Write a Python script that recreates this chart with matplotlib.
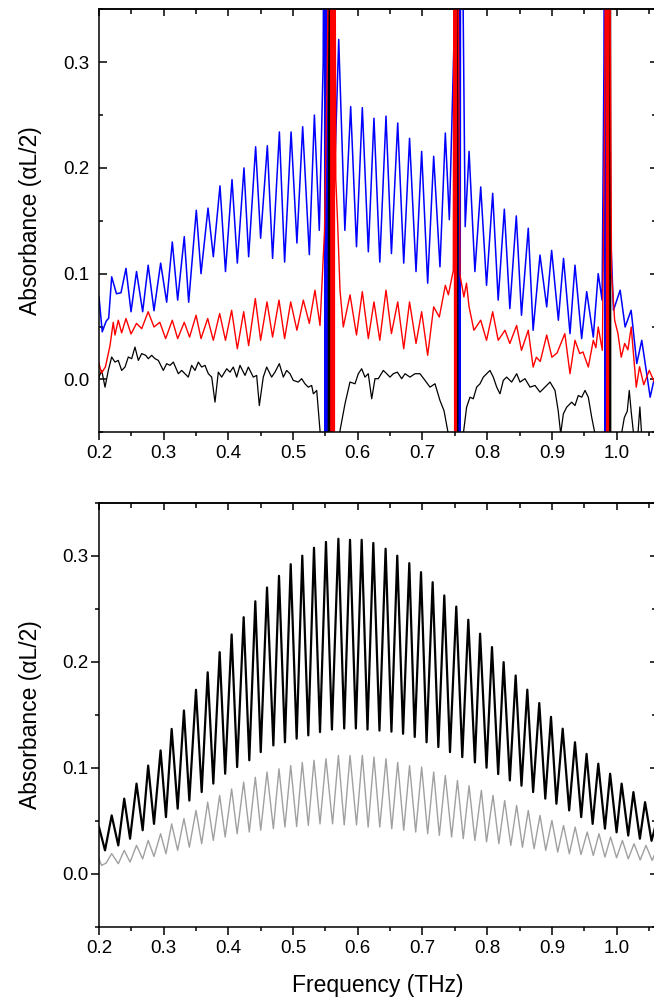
import matplotlib
matplotlib.use("Agg")
import matplotlib.pyplot as plt
from matplotlib.ticker import MultipleLocator, FuncFormatter

plt.rcParams["font.family"] = ["Liberation Sans", "DejaVu Sans"]

# ---- top panel: measured absorbance, frequency in THz ----
# water lines run off scale, so those points sit outside the y range
blue_f = [0.2000, 0.2050, 0.2110, 0.2150, 0.2196, 0.2270, 0.2340, 0.2417, 0.2495, 0.2580,
          0.2675, 0.2760, 0.2850, 0.2953, 0.3046, 0.3133, 0.3216, 0.3318, 0.3386, 0.3504,
          0.3577, 0.3685, 0.3767, 0.3870, 0.3955, 0.4056, 0.4138, 0.4241, 0.4313, 0.4421,
          0.4498, 0.4602, 0.4683, 0.4788, 0.4869, 0.4969, 0.5059, 0.5148, 0.5251, 0.5329,
          0.5405, 0.5465, 0.5484, 0.5497, 0.5510, 0.5523, 0.5536, 0.5645, 0.5705, 0.5800,
          0.5890, 0.5980, 0.6070, 0.6163, 0.6250, 0.6340, 0.6436, 0.6520, 0.6617, 0.6710,
          0.6800, 0.6900, 0.6987, 0.7080, 0.7173, 0.7270, 0.7353, 0.7415, 0.7500, 0.7540,
          0.7552, 0.7565, 0.7577, 0.7590, 0.7660, 0.7720, 0.7810, 0.7900, 0.7990, 0.8085,
          0.8170, 0.8265, 0.8350, 0.8450, 0.8530, 0.8635, 0.8710, 0.8816, 0.8920, 0.8996,
          0.9100, 0.9180, 0.9280, 0.9357, 0.9460, 0.9538, 0.9640, 0.9716, 0.9776, 0.9805,
          0.9815, 0.9825, 0.9835, 0.9845, 0.9855, 0.9906, 0.9952, 1.0055, 1.0132, 1.0225,
          1.0312, 1.0389, 1.0519, 1.0580]
blue_a = [0.078, 0.045, 0.055, 0.058, 0.097, 0.081, 0.082, 0.105, 0.064, 0.102,
          0.064, 0.108, 0.065, 0.110, 0.073, 0.130, 0.075, 0.135, 0.073, 0.160,
          0.100, 0.162, 0.116, 0.183, 0.102, 0.189, 0.110, 0.200, 0.116, 0.220,
          0.1335, 0.221, 0.1145, 0.234, 0.111, 0.234, 0.129, 0.239, 0.118, 0.250,
          0.141, 0.300, 0.600, -0.400, 0.600, -0.400, 0.600, 0.200, 0.3215, 0.141,
          0.258, 0.1255, 0.257, 0.1207, 0.247, 0.111, 0.249, 0.119, 0.2425, 0.110,
          0.228, 0.102, 0.2156, 0.091, 0.211, 0.1065, 0.233, 0.151, 0.350, 0.600,
          -0.400, 0.600, -0.400, 0.600, 0.1445, 0.2156, 0.102, 0.182, 0.089, 0.176,
          0.075, 0.161, 0.067, 0.1546, 0.0607, 0.143, 0.0465, 0.1176, 0.0686, 0.122,
          0.056, 0.1145, 0.0433, 0.108, 0.0386, 0.083, 0.040, 0.100, 0.075, 0.300,
          0.600, -0.400, 0.600, -0.400, 0.600, 0.141, 0.0654, 0.0844, 0.0496, 0.0654,
          0.015, 0.037, -0.0168, 0.000]

red_f = [0.2000, 0.2040, 0.2100, 0.2170, 0.2220, 0.2247, 0.2298, 0.2350, 0.2417, 0.2495,
         0.2580, 0.2660, 0.2760, 0.2850, 0.2940, 0.3030, 0.3133, 0.3216, 0.3318, 0.3400,
         0.3500, 0.3577, 0.3680, 0.3767, 0.3865, 0.3955, 0.4050, 0.4138, 0.4236, 0.4313,
         0.4416, 0.4498, 0.4597, 0.4683, 0.4782, 0.4869, 0.4963, 0.5059, 0.5158, 0.5251,
         0.5338, 0.5416, 0.5485, 0.5530, 0.5578, 0.5590, 0.5602, 0.5614, 0.5626, 0.5638,
         0.5640, 0.5660, 0.5690, 0.5725, 0.5776, 0.5880, 0.5980, 0.6070, 0.6163, 0.6250,
         0.6340, 0.6436, 0.6520, 0.6617, 0.6710, 0.6800, 0.6900, 0.6987, 0.7080, 0.7173,
         0.7260, 0.7353, 0.7400, 0.7476, 0.7490, 0.7500, 0.7510, 0.7520, 0.7530, 0.7580,
         0.7640, 0.7680, 0.7720, 0.7795, 0.7900, 0.7990, 0.8085, 0.8170, 0.8275, 0.8350,
         0.8455, 0.8530, 0.8635, 0.8710, 0.8760, 0.8820, 0.8920, 0.9000, 0.9080, 0.9200,
         0.9280, 0.9357, 0.9430, 0.9480, 0.9563, 0.9640, 0.9680, 0.9716, 0.9780, 0.9815,
         0.9840, 0.9850, 0.9860, 0.9870, 0.9880, 0.9922, 0.9970, 1.0021, 1.0072, 1.0125,
         1.0175, 1.0226, 1.0304, 1.0355, 1.0420, 1.0505, 1.0580]
red_a = [0.015, 0.006, 0.012, 0.032, 0.054, 0.042, 0.056, 0.044, 0.0576, 0.043,
         0.053, 0.048, 0.064, 0.0496, 0.054, 0.0386, 0.056, 0.0386, 0.054, 0.040,
         0.0607, 0.0386, 0.0576, 0.037, 0.0623, 0.037, 0.0654, 0.029, 0.064, 0.032,
         0.0765, 0.037, 0.0733, 0.040, 0.075, 0.0386, 0.0733, 0.0465, 0.075, 0.053,
         0.0844, 0.051, 0.140, 0.300, 0.600, -0.400, 0.600, -0.400, 0.600, -0.400,
         0.600, 0.190, 0.145, 0.0844, 0.0496, 0.080, 0.042, 0.083, 0.0386, 0.0733,
         0.037, 0.0844, 0.0433, 0.0733, 0.029, 0.0733, 0.034, 0.064, 0.0228, 0.0686,
         0.059, 0.089, 0.080, 0.103, 0.600, -0.400, 0.600, -0.400, 0.600, 0.0986,
         0.078, 0.091, 0.0686, 0.0465, 0.056, 0.037, 0.064, 0.037, 0.0465, 0.034,
         0.051, 0.0275, 0.0465, 0.0117, 0.021, 0.017, 0.042, 0.021, 0.025, 0.0433,
         0.0054, 0.037, 0.0244, 0.026, 0.0117, 0.037, 0.030, 0.0496, 0.0275, 0.250,
         0.600, -0.400, 0.600, -0.400, 0.600, 0.100, 0.056, 0.0433, 0.021, 0.034,
         0.028, 0.0496, -0.0073, 0.012, -0.005, 0.0085, -0.002]

black_f = [0.2000, 0.2042, 0.2093, 0.2144, 0.2196, 0.2247, 0.2298, 0.2350, 0.2402, 0.2453,
           0.2505, 0.2556, 0.2608, 0.2660, 0.2722, 0.2762, 0.2814, 0.2866, 0.2917, 0.2994,
           0.3046, 0.3097, 0.3149, 0.3226, 0.3278, 0.3329, 0.3380, 0.3432, 0.3484, 0.3535,
           0.3587, 0.3638, 0.3690, 0.3742, 0.3793, 0.3844, 0.3896, 0.3974, 0.4025, 0.4076,
           0.4128, 0.4179, 0.4257, 0.4308, 0.4385, 0.4437, 0.4478, 0.4539, 0.4592, 0.4668,
           0.4720, 0.4787, 0.4849, 0.4900, 0.4952, 0.5003, 0.5080, 0.5132, 0.5183, 0.5235,
           0.5287, 0.5313, 0.5365, 0.5416, 0.5470, 0.5540, 0.5551, 0.5562, 0.5573, 0.5584,
           0.5650, 0.5725, 0.5802, 0.5879, 0.5957, 0.6008, 0.6060, 0.6111, 0.6162, 0.6215,
           0.6266, 0.6317, 0.6394, 0.6447, 0.6498, 0.6549, 0.6611, 0.6679, 0.6730, 0.6807,
           0.6884, 0.6961, 0.7039, 0.7116, 0.7193, 0.7270, 0.7332, 0.7399, 0.7450, 0.7525,
           0.7531, 0.7537, 0.7543, 0.7549, 0.7600, 0.7631, 0.7682, 0.7734, 0.7785, 0.7837,
           0.7889, 0.7940, 0.7992, 0.8043, 0.8094, 0.8147, 0.8198, 0.8249, 0.8301, 0.8378,
           0.8456, 0.8507, 0.8584, 0.8662, 0.8739, 0.8816, 0.8893, 0.8971, 0.9048, 0.9097,
           0.9136, 0.9177, 0.9229, 0.9306, 0.9357, 0.9408, 0.9461, 0.9512, 0.9563, 0.9615,
           0.9666, 0.9750, 0.9888, 0.9894, 0.9900, 0.9906, 0.9912, 1.0000, 1.0080, 1.0120,
           1.0165, 1.0196, 1.0225, 1.0260, 1.0320, 1.0360, 1.0390, 1.0450, 1.0580]
black_a = [0.0022, 0.0085, -0.0073, 0.0085, 0.0212, 0.0164, 0.0180, 0.0085, 0.0117, 0.0212,
           0.0196, 0.0306, 0.0180, 0.0244, 0.0228, 0.0196, 0.0228, 0.0196, 0.0180, 0.0085,
           0.0149, 0.0133, 0.0164, 0.0054, 0.0085, 0.0054, 0.0022, 0.0133, 0.0085, 0.0164,
           0.0117, 0.0133, 0.0054, 0.0022, -0.0215, 0.0069, 0.0022, 0.0101, 0.0069, 0.0117,
           0.0022, 0.0133, 0.0038, 0.0117, 0.0022, 0.0038, -0.0247, 0.0022, 0.0117, 0.0022,
           0.0069, 0.0149, 0.0022, 0.0085, 0.0054, -0.0009, -0.0025, 0.0007, -0.0041, -0.0073,
           -0.0057, -0.0136, -0.0104, -0.0484, -0.150, -0.400, 0.600, -0.400, 0.600, -0.400,
           -0.150, -0.0484, -0.0231, -0.0025, -0.0041, 0.0054, 0.0101, 0.0022, 0.0054, -0.0183,
           0.0007, 0.0007, 0.0085, 0.0054, 0.0022, 0.0054, 0.0069, 0.0007, 0.0054, 0.0022,
           0.0054, 0.0054, -0.0009, -0.0073, -0.0041, -0.0199, -0.0294, -0.0515, -0.150, -0.400,
           0.600, -0.400, 0.600, -0.400, -0.150, -0.0515, -0.0262, -0.0168, -0.0183, -0.0073,
           -0.0041, 0.0022, 0.0054, 0.0085, 0.0022, -0.0073, -0.0136, -0.0009, 0.0022, -0.0025,
           0.0054, -0.0025, 0.0007, -0.0073, -0.0057, -0.0120, -0.0073, -0.0025, -0.0104, -0.0294,
           -0.0515, -0.0326, -0.0262, -0.0215, -0.0247, -0.0152, -0.0168, -0.0104, -0.0168, -0.0357,
           -0.0515, -0.150, -0.400, 0.600, -0.400, 0.600, -0.400, -0.150, -0.050, -0.036,
           -0.030, -0.0104, -0.030, -0.050, -0.060, -0.026, -0.055, -0.070, -0.070]

# ---- bottom panel ----
meas_f = [0.2000, 0.2093, 0.2196, 0.2298, 0.2390, 0.2480, 0.2580, 0.2675, 0.2760, 0.2850,
          0.2952, 0.3035, 0.3123, 0.3216, 0.3313, 0.3396, 0.3499, 0.3587, 0.3680, 0.3767,
          0.3865, 0.3950, 0.4050, 0.4135, 0.4236, 0.4323, 0.4416, 0.4500, 0.4597, 0.4695,
          0.4782, 0.4874, 0.4963, 0.5055, 0.5142, 0.5235, 0.5323, 0.5416, 0.5508, 0.5600,
          0.5700, 0.5790, 0.5880, 0.5970, 0.6060, 0.6150, 0.6240, 0.6335, 0.6430, 0.6520,
          0.6610, 0.6700, 0.6796, 0.6880, 0.6977, 0.7063, 0.7157, 0.7245, 0.7337, 0.7425,
          0.7522, 0.7615, 0.7708, 0.7810, 0.7890, 0.7990, 0.8074, 0.8170, 0.8254, 0.8350,
          0.8440, 0.8530, 0.8620, 0.8710, 0.8805, 0.8898, 0.8986, 0.9070, 0.9167, 0.9267,
          0.9357, 0.9453, 0.9536, 0.9630, 0.9717, 0.9820, 0.9900, 1.0000, 1.0078, 1.0180,
          1.0260, 1.0360, 1.0440, 1.0540, 1.0600]
meas_a = [0.044, 0.022, 0.055, 0.0267, 0.0708, 0.033, 0.085, 0.041, 0.102, 0.047,
          0.1163, 0.0534, 0.1366, 0.0613, 0.154, 0.069, 0.1735, 0.077, 0.190, 0.085,
          0.209, 0.0943, 0.2257, 0.1006, 0.242, 0.107, 0.257, 0.1147, 0.270, 0.121,
          0.281, 0.124, 0.292, 0.1274, 0.300, 0.1305, 0.3075, 0.1336, 0.313, 0.136,
          0.316, 0.137, 0.315, 0.137, 0.315, 0.136, 0.312, 0.135, 0.3066, 0.134,
          0.300, 0.132, 0.293, 0.129, 0.2845, 0.124, 0.275, 0.1195, 0.2625, 0.1147,
          0.252, 0.110, 0.2396, 0.105, 0.2264, 0.100, 0.2138, 0.094, 0.1996, 0.088,
          0.187, 0.083, 0.1736, 0.077, 0.161, 0.0708, 0.148, 0.066, 0.1368, 0.0597,
          0.124, 0.0534, 0.113, 0.047, 0.1038, 0.0425, 0.0943, 0.039, 0.085, 0.036,
          0.077, 0.033, 0.0675, 0.031, 0.045]

sim_f = [0.2000, 0.2040, 0.2110, 0.2196, 0.2298, 0.2390, 0.2480, 0.2580, 0.2675, 0.2760,
         0.2850, 0.2952, 0.3035, 0.3123, 0.3216, 0.3313, 0.3396, 0.3499, 0.3587, 0.3680,
         0.3767, 0.3865, 0.3950, 0.4050, 0.4135, 0.4236, 0.4323, 0.4416, 0.4500, 0.4597,
         0.4695, 0.4782, 0.4874, 0.4963, 0.5055, 0.5142, 0.5235, 0.5323, 0.5416, 0.5508,
         0.5610, 0.5700, 0.5790, 0.5880, 0.5980, 0.6070, 0.6160, 0.6250, 0.6340, 0.6436,
         0.6525, 0.6617, 0.6710, 0.6800, 0.6895, 0.6987, 0.7080, 0.7173, 0.7260, 0.7353,
         0.7450, 0.7540, 0.7630, 0.7720, 0.7810, 0.7910, 0.7990, 0.8090, 0.8180, 0.8270,
         0.8365, 0.8455, 0.8545, 0.8635, 0.8725, 0.8816, 0.8905, 0.9000, 0.9090, 0.9180,
         0.9270, 0.9360, 0.9450, 0.9546, 0.9640, 0.9728, 0.9820, 0.9907, 1.0000, 1.0090,
         1.0180, 1.0270, 1.0365, 1.0454, 1.0550, 1.0600]
sim_a = [0.014, 0.0078, 0.010, 0.019, 0.0094, 0.022, 0.011, 0.0267, 0.014, 0.0314,
         0.0163, 0.0377, 0.0188, 0.047, 0.022, 0.052, 0.025, 0.0597, 0.0283, 0.0675,
         0.0314, 0.0739, 0.0346, 0.080, 0.0377, 0.0864, 0.0393, 0.091, 0.041, 0.0959,
         0.0425, 0.099, 0.044, 0.102, 0.0445, 0.105, 0.0455, 0.107, 0.047, 0.1085,
         0.047, 0.1116, 0.046, 0.1116, 0.046, 0.1116, 0.044, 0.110, 0.044, 0.1085,
         0.0425, 0.105, 0.041, 0.102, 0.0393, 0.1006, 0.0377, 0.0959, 0.0362, 0.0927,
         0.0346, 0.088, 0.033, 0.083, 0.0314, 0.0786, 0.030, 0.0739, 0.0283, 0.069,
         0.0267, 0.0644, 0.025, 0.0597, 0.0236, 0.055, 0.022, 0.0503, 0.0204, 0.0455,
         0.0188, 0.044, 0.018, 0.0393, 0.0172, 0.0377, 0.0157, 0.0346, 0.015, 0.0314,
         0.014, 0.0283, 0.013, 0.0267, 0.0125, 0.020]


def fmt(v, pos):
    if abs(v) < 1e-9:
        v = 0.0
    return f"{v:.1f}"


def style(ax, left_dir):
    ax.set_xlim(0.2, 1.062)
    ax.set_ylim(-0.05, 0.35)
    for loc in (ax.xaxis, ax.yaxis):
        loc.set_major_locator(MultipleLocator(0.1))
        loc.set_minor_locator(MultipleLocator(0.05))
        loc.set_major_formatter(FuncFormatter(fmt))
    ax.tick_params(axis="x", which="both", direction="out", top=False,
                   labelsize=13.5, pad=4, width=1.1)
    ax.tick_params(axis="y", which="both", direction=left_dir, right=False,
                   labelsize=13.5, pad=7 if left_dir == "in" else 2, width=1.1)
    ax.tick_params(which="major", length=5.5)
    ax.tick_params(which="minor", length=3)
    for s in ax.spines.values():
        s.set_linewidth(1.1)
    # mirrored ticks on top and right, pointing in
    sx = ax.secondary_xaxis("top")
    sx.xaxis.set_major_locator(MultipleLocator(0.1))
    sx.xaxis.set_minor_locator(MultipleLocator(0.05))
    sx.tick_params(which="both", direction="in", labeltop=False, width=1.1)
    sx.tick_params(which="major", length=5)
    sx.tick_params(which="minor", length=3.5)
    sx.spines["top"].set_linewidth(1.1)
    sy = ax.secondary_yaxis("right")
    sy.yaxis.set_major_locator(MultipleLocator(0.1))
    sy.yaxis.set_minor_locator(MultipleLocator(0.05))
    sy.tick_params(which="both", direction="in", labelright=False, width=1.1)
    sy.tick_params(which="major", length=5)
    sy.tick_params(which="minor", length=3.5)
    ax.set_ylabel("Absorbance (\u03b1L/2)", fontsize=16.5)
    ax.yaxis.set_label_coords(-0.103, 0.5)


fig = plt.figure(figsize=(6.54, 10.01), dpi=100)

ax1 = fig.add_axes([99 / 654, 1 - 432.3 / 1001, 557.7 / 654, 423 / 1001])
ax1.plot(blue_f, blue_a, color="#0000ff", lw=1.1, solid_joinstyle="round")
ax1.plot(black_f, black_a, color="#000000", lw=0.9, solid_joinstyle="round")
ax1.plot(red_f, red_a, color="#ff0000", lw=1.0, solid_joinstyle="round")
style(ax1, "in")

ax2 = fig.add_axes([99 / 654, 1 - 926.7 / 1001, 557.7 / 654, 424 / 1001])
ax2.plot(sim_f, sim_a, color="#a0a0a0", lw=1.0, solid_joinstyle="round")
ax2.plot(meas_f, meas_a, color="#000000", lw=1.6, solid_joinstyle="round")
style(ax2, "out")
ax2.set_xlabel("Frequency (THz)", fontsize=16.5)
ax2.xaxis.set_label_coords(0.5, -0.112)

fig.savefig("out.png", dpi=100)
